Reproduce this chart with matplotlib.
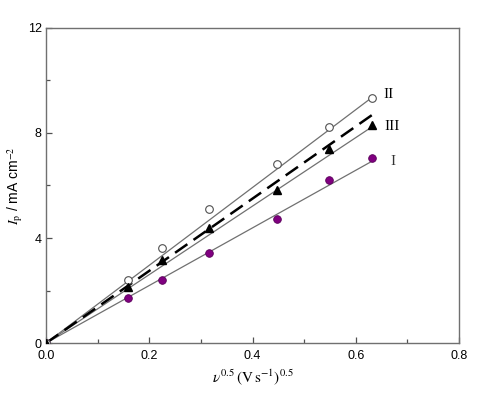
import numpy as np
import matplotlib
matplotlib.use("Agg")
import matplotlib.pyplot as plt
from matplotlib.ticker import MultipleLocator

plt.rcParams["mathtext.fontset"] = "stix"
plt.rcParams["font.family"] = ["Liberation Sans", "DejaVu Sans"]

# sqrt of scan rate, (V s^-1)^0.5
x = [0.0, 0.158, 0.224, 0.316, 0.447, 0.548, 0.632]

# peak current densities, mA cm^-2
ip_I = [0.0, 1.72, 2.42, 3.42, 4.72, 6.20, 7.05]
ip_II = [0.0, 2.42, 3.61, 5.11, 6.82, 8.24, 9.33]
ip_III = [0.0, 2.14, 3.16, 4.38, 5.81, 7.40, 8.32]

# linear fit lines (from origin), value at last x
fit_end_I = 6.93
fit_end_II = 9.36
fit_end_III = 8.24
# dashed reference line end value at last x
dash_end = 8.69

fig = plt.figure(figsize=(4.87, 3.93), dpi=100)
ax = fig.add_axes([0.0945, 0.127, 0.848, 0.802])

grey = "#707070"
xl = [0.0, x[-1]]

for ye in (fit_end_I, fit_end_II, fit_end_III):
    ax.plot(xl, [0.0, ye], color=grey, lw=0.9, zorder=2)

ax.plot(xl, [0.0, dash_end], color="black", lw=1.8,
        ls=(0, (6, 3)), zorder=3)

ax.plot(x, ip_I, "o", color="#800080", ms=5.5, mec="#5a005a", mew=0.6,
        zorder=4)
ax.plot(x, ip_II, "o", mfc="white", mec="#505050", ms=5.5, mew=0.8,
        zorder=4)
ax.plot(x, ip_III, "^", color="black", ms=6, zorder=5)

ax.text(0.664, 9.45, "II", family="Liberation Serif", fontsize=11,
        va="center", ha="center")
ax.text(0.671, 8.25, "III", family="Liberation Serif", fontsize=11,
        va="center", ha="center")
ax.text(0.672, 6.9, "I", family="Liberation Serif", fontsize=11,
        va="center", ha="center", color="#333333")

ax.set_xlim(0, 0.8)
ax.set_ylim(0, 12)
ax.xaxis.set_major_locator(MultipleLocator(0.2))
ax.xaxis.set_minor_locator(MultipleLocator(0.1))
ax.yaxis.set_major_locator(MultipleLocator(4))
ax.yaxis.set_minor_locator(MultipleLocator(2))
ax.xaxis.set_major_formatter(plt.FuncFormatter(lambda v, p: f"{v:.1f}"))
ax.yaxis.set_major_formatter(plt.FuncFormatter(lambda v, p: f"{v:.0f}"))

ax.tick_params(which="both", direction="in", colors="#505050",
               labelcolor="black", labelsize=9)
ax.tick_params(which="major", length=4, width=0.9)
ax.tick_params(which="minor", length=3, width=0.9)
ax.tick_params(axis="x", pad=5)
ax.tick_params(axis="y", pad=3)

for s in ax.spines.values():
    s.set_color("#707070")
    s.set_linewidth(1.0)

ax.set_xlabel(r"$\nu^{0.5}\,(\mathrm{V\,s^{-1}})^{0.5}$", fontsize=11,
              labelpad=4)
ax.set_ylabel(r"$I_{\mathrm{p}}$ / mA cm$^{-2}$", fontsize=10, labelpad=2)

fig.savefig("out.png", dpi=100)
